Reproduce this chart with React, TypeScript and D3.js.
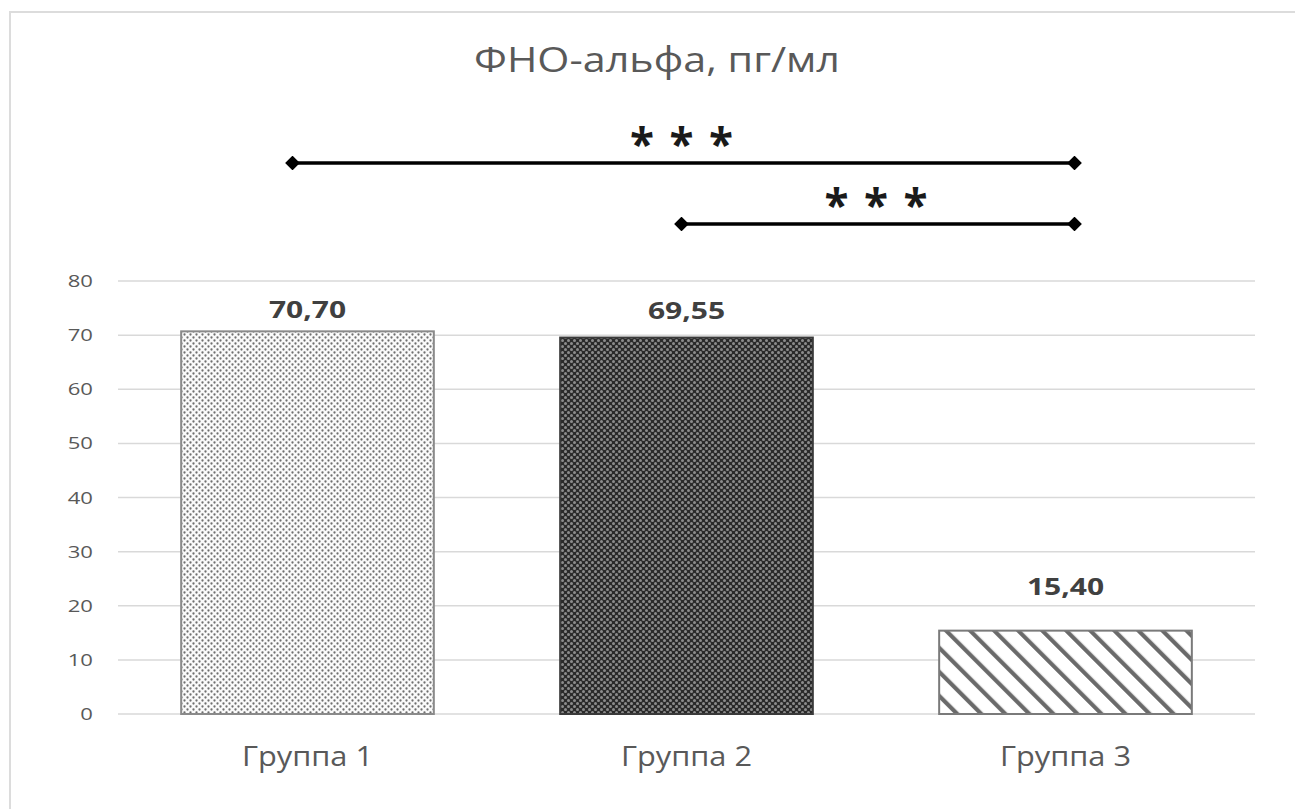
import React from "react";
import * as d3 from "d3";

const categories = ["Группа 1", "Группа 2", "Группа 3"];
const values = [70.7, 69.55, 15.4];
const valueLabels = ["70,70", "69,55", "15,40"];
const yTicks = [0, 10, 20, 30, 40, 50, 60, 70, 80];
const title = "ФНО-альфа, пг/мл";
const brackets = [
  { from: "Группа 1", to: "Группа 3", label: "* * *" },
  { from: "Группа 2", to: "Группа 3", label: "* * *" },
];
const patterns = ["dots", "darkgrid", "diag"];

export default function App() {
  const W = 1295, H = 809;
  const left = 118, right = 1255, top = 281, bottom = 714;
  const x = d3.scaleBand().domain(categories).range([left, right]).paddingInner(1 / 3).paddingOuter(1 / 6);
  const y = d3.scaleLinear().domain([0, 80]).range([bottom, top]);
  const bw = x.bandwidth();
  const font = "'Open Sans', 'Liberation Sans', sans-serif";
  const bracketY = [163, 224];
  const bracketStartShift = [-15, -5];
  const strokes = ["#8a8a8a", "#3a3a3a", "#7a7a7a"];
  const labelDy = [-13, -19, -36];

  return (
    <svg width={W} height={H} style={{ position: "absolute", left: 0, top: 0 }}>
      <defs>
        <pattern id="dots" width={6} height={6} patternUnits="userSpaceOnUse">
          <rect width={6} height={6} fill="#fafafa" />
          <circle cx={1.5} cy={1.5} r={1.15} fill="#6f6f6f" />
          <circle cx={4.5} cy={4.5} r={1.15} fill="#6f6f6f" />
        </pattern>
        <pattern id="darkgrid" width={6} height={6} patternUnits="userSpaceOnUse">
          <rect width={6} height={6} fill="#2a2a2a" />
          <circle cx={1.5} cy={1.5} r={1.5} fill="#8c8c8c" />
          <circle cx={4.5} cy={4.5} r={1.5} fill="#8c8c8c" />
        </pattern>
        <pattern id="diag" width={17} height={17} patternUnits="userSpaceOnUse" patternTransform="rotate(-45)">
          <rect width={17} height={17} fill="#ffffff" />
          <rect x={0} y={0} width={4.2} height={17} fill="#6a6a6a" />
        </pattern>
        <marker id="dia" viewBox="-5 -5 10 10" markerWidth={4.2} markerHeight={4.2} refX={0} refY={0} orient="auto">
          <path d="M-5,0 L0,-5 L5,0 L0,5 Z" fill="#000" />
        </marker>
      </defs>
      <rect x={0} y={0} width={W} height={H} fill="#fff" />
      <rect x={10} y={12} width={1300} height={820} fill="#fff" stroke="#dcdcdc" strokeWidth={2} />
      <text transform="translate(657,72) scale(1.18,1)" textAnchor="middle" fontFamily={font} fontSize={35} fill="#595959">{title}</text>
      {yTicks.map((t) => (
        <g key={t}>
          <line x1={left} x2={right} y1={y(t)} y2={y(t)} stroke="#d9d9d9" strokeWidth={1.5} />
          <text transform={`translate(93,${y(t) + 6}) scale(1.3,1)`} textAnchor="end" fontFamily={font} fontSize={17} fill="#595959">{t}</text>
        </g>
      ))}
      {categories.map((c, i) => (
        <g key={c}>
          <rect x={x(c)!} y={y(values[i])} width={bw} height={y(0) - y(values[i])}
            fill={`url(#${patterns[i]})`} stroke={strokes[i]} strokeWidth={2} />
          <text transform={`translate(${x(c)! + bw / 2},${y(values[i]) + labelDy[i]}) scale(1.25,1)`} textAnchor="middle" fontFamily={font} fontSize={24} fontWeight="bold" fill="#404040">{valueLabels[i]}</text>
          <text transform={`translate(${x(c)! + bw / 2},766) scale(1.14,1)`} textAnchor="middle" fontFamily={font} fontSize={27} fill="#595959">{c}</text>
        </g>
      ))}
      {brackets.map((b, i) => {
        const x1 = x(b.from)! + bw / 2 + bracketStartShift[i];
        const x2 = x(b.to)! + bw / 2 + 9;
        return (
          <g key={i}>
            <line x1={x1} x2={x2} y1={bracketY[i]} y2={bracketY[i]} stroke="#000" strokeWidth={3.5}
              markerStart="url(#dia)" markerEnd="url(#dia)" />
            <text x={(x1 + x2) / 2 - 1} y={bracketY[i] - 3} textAnchor="middle" fontFamily={font} fontSize={44} fontWeight="bold" letterSpacing={2} fill="#1a1a1a">{b.label}</text>
          </g>
        );
      })}
    </svg>
  );
}
